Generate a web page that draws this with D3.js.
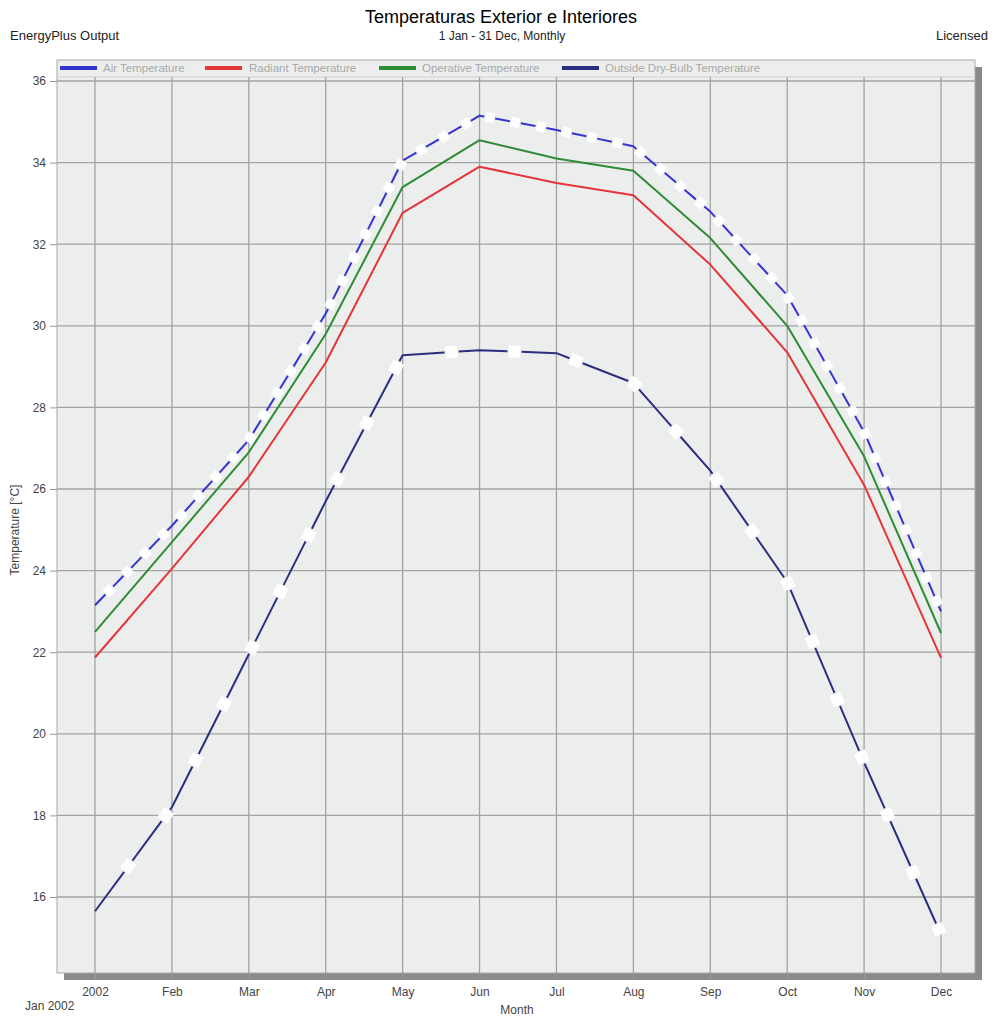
<!DOCTYPE html>
<html>
<head>
<meta charset="utf-8">
<script src="https://cdn.jsdelivr.net/npm/d3@7"></script>
<style>
  body { margin: 0; background: #ffffff; }
  svg { display: block; font-family: "Liberation Sans", Arial, sans-serif; }
</style>
</head>
<body>
<svg id="chart" width="993" height="1018"></svg>
<script>
// ---- data ----
const months = ["2002", "Feb", "Mar", "Apr", "May", "Jun", "Jul", "Aug", "Sep", "Oct", "Nov", "Dec"];
const airTemp       = [23.15, 25.1, 27.2, 30.3, 34.05, 35.15, 34.8, 34.4, 32.8, 30.75, 27.4, 23.0];
const radiantTemp   = [21.87, 24.05, 26.3, 29.1, 32.77, 33.9, 33.5, 33.2, 31.5, 29.35, 26.1, 21.86];
const operativeTemp = [22.5, 24.7, 26.9, 29.8, 33.4, 34.55, 34.1, 33.8, 32.15, 30.0, 26.8, 22.47];
const outsideTemp   = [15.65, 18.2, 21.95, 25.7, 29.28, 29.4, 29.33, 28.6, 26.45, 23.72, 19.3, 15.08];
const yTicks = [16, 18, 20, 22, 24, 26, 28, 30, 32, 34, 36];
const seriesNames = ["Air Temperature", "Radiant Temperature", "Operative Temperature", "Outside Dry-Bulb Temperature"];

const series = [
  { name: seriesNames[0], values: airTemp,       color: "#3434d0", dash: [15, 11], white: 10 },
  { name: seriesNames[1], values: radiantTemp,   color: "#e5343a", dash: null },
  { name: seriesNames[2], values: operativeTemp, color: "#2e8b36", dash: null },
  { name: seriesNames[3], values: outsideTemp,   color: "#2b2f80", dash: [49, 14], white: 12 }
];

const svg = d3.select("#chart");

// layout
const box = { left: 57, right: 975, top: 60, bottom: 973 };
const legendBottom = 77;

const x = d3.scalePoint().domain(months).range([95, 941]);
const y = d3.scaleLinear().domain([16, 36]).range([897, 81]);

// titles
svg.append("text").attr("x", 501).attr("y", 23).attr("text-anchor", "middle")
  .attr("font-size", 18).attr("fill", "#000").text("Temperaturas Exterior e Interiores");
svg.append("text").attr("x", 502).attr("y", 40).attr("text-anchor", "middle")
  .attr("font-size", 12).attr("fill", "#222").text("1 Jan - 31 Dec, Monthly");
svg.append("text").attr("x", 10).attr("y", 40)
  .attr("font-size", 13).attr("fill", "#222").text("EnergyPlus Output");
svg.append("text").attr("x", 988).attr("y", 40).attr("text-anchor", "end")
  .attr("font-size", 13).attr("fill", "#222").text("Licensed");

// shadow
svg.append("rect").attr("x", box.left + 7).attr("y", box.top + 7)
  .attr("width", box.right - box.left).attr("height", box.bottom - box.top)
  .attr("fill", "#8a8a8a");
// plot box
svg.append("rect").attr("x", box.left).attr("y", box.top)
  .attr("width", box.right - box.left).attr("height", box.bottom - box.top)
  .attr("fill", "#eceeee").attr("stroke", "#a8a8a8").attr("stroke-width", 1);

// legend separator
svg.append("line").attr("x1", box.left).attr("x2", box.right)
  .attr("y1", legendBottom).attr("y2", legendBottom)
  .attr("stroke", "#d0d2d2").attr("stroke-width", 1);

// grid
const grid = svg.append("g");
grid.selectAll("line.h").data(yTicks).join("line")
  .attr("x1", box.left).attr("x2", box.right)
  .attr("y1", d => y(d)).attr("y2", d => y(d))
  .attr("stroke", "#a2a2a2").attr("stroke-width", 1.3);
grid.selectAll("line.v").data(months).join("line")
  .attr("x1", d => x(d)).attr("x2", d => x(d))
  .attr("y1", legendBottom).attr("y2", box.bottom)
  .attr("stroke", "#a2a2a2").attr("stroke-width", 1.3);

// y axis
const yAxis = svg.append("g").attr("transform", `translate(${box.left},0)`)
  .call(d3.axisLeft(y).tickValues(yTicks).tickSize(7).tickPadding(4).tickFormat(d3.format("d")));
yAxis.select(".domain").remove();
yAxis.selectAll(".tick line").attr("stroke", "#999");
yAxis.selectAll(".tick text").attr("font-size", 12).attr("fill", "#444")
  .attr("font-family", "Liberation Sans, Arial, sans-serif");

// x axis
const xAxis = svg.append("g").attr("transform", `translate(0,${box.bottom})`)
  .call(d3.axisBottom(x).tickSize(6).tickPadding(8));
xAxis.select(".domain").remove();
xAxis.selectAll(".tick line").attr("stroke", "#999");
xAxis.selectAll(".tick text").attr("font-size", 12).attr("fill", "#444")
  .attr("font-family", "Liberation Sans, Arial, sans-serif");

svg.append("text").attr("x", 25).attr("y", 1010)
  .attr("font-size", 12).attr("fill", "#444").text("Jan 2002");
svg.append("text").attr("x", 517).attr("y", 1014).attr("text-anchor", "middle")
  .attr("font-size", 12).attr("fill", "#444").text("Month");
svg.append("text").attr("transform", "translate(19,530) rotate(-90)").attr("text-anchor", "middle")
  .attr("font-size", 12).attr("fill", "#444").text("Temperature [°C]");

// lines
const line = d3.line().x((d, i) => x(months[i])).y(d => y(d));
const lines = svg.append("g");
series.forEach(s => {
  if (s.dash) {
    lines.append("path").datum(s.values).attr("d", line)
      .attr("fill", "none").attr("stroke", "#ffffff").attr("stroke-width", s.white)
      .attr("stroke-opacity", 0.92)
      .attr("stroke-dasharray", `0,${s.dash[0] + 1},${s.dash[1] - 2},1`);
  }
  lines.append("path").datum(s.values).attr("d", line)
    .attr("fill", "none").attr("stroke", s.color).attr("stroke-width", 2)
    .attr("stroke-linejoin", "round")
    .attr("stroke-dasharray", s.dash ? s.dash.join(",") : null);
});

// legend
const legendItems = [
  { lx: 60, tx: 103 },
  { lx: 205, tx: 249 },
  { lx: 379, tx: 422 },
  { lx: 562, tx: 605 }
];
const lg = svg.append("g");
series.forEach((s, i) => {
  lg.append("line").attr("x1", legendItems[i].lx).attr("x2", legendItems[i].lx + 37)
    .attr("y1", 68).attr("y2", 68)
    .attr("stroke", s.color).attr("stroke-width", 4);
  lg.append("text").attr("x", legendItems[i].tx).attr("y", 72)
    .attr("font-size", 11.5).attr("fill", "#a8a8a8").text(s.name);
});
</script>
</body>
</html>
